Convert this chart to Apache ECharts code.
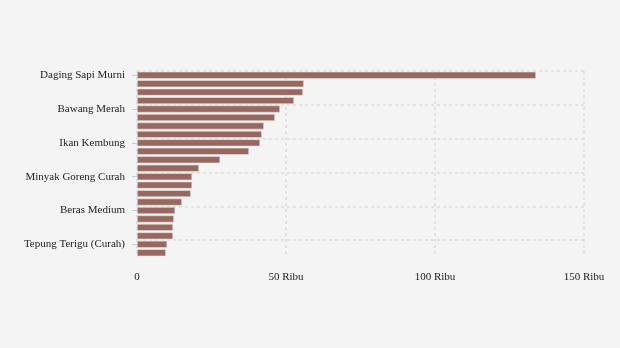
<!DOCTYPE html>
<html><head><meta charset="utf-8">
<script src="https://cdn.jsdelivr.net/npm/echarts@6/dist/echarts.min.js"></script>
<style>html,body{margin:0;padding:0;background:#f4f4f4}#c{width:620px;height:348px}</style>
</head><body><div id="c"></div>
<script>
var categories = ["Daging Sapi Murni","Cabai Rawit Merah","Daging Ayam Ras","Cabai Merah Keriting","Bawang Merah","Cabai Merah Besar","Ikan Bandeng","Bawang Putih Bonggol","Ikan Kembung","Ikan Tongkol","Telur Ayam Ras","Minyak Goreng Kemasan","Minyak Goreng Curah","Gula Konsumsi","Kedelai Biji Kering","Beras Premium","Beras Medium","Tepung Terigu (Kemasan)","Garam Halus","Jagung Tk Peternak","Tepung Terigu (Curah)","Jagung Pipilan"];
var values = [133.9,56.0,55.7,52.7,48.0,46.3,42.6,41.9,41.3,37.6,27.9,20.8,18.5,18.5,18.1,15.1,12.8,12.4,12.1,12.1,10.1,9.7];
var xTicks = {0:"0",50:"50 Ribu",100:"100 Ribu",150:"150 Ribu"};
var chart = echarts.init(document.getElementById('c'));
var font = "'Liberation Serif', 'Times New Roman', serif";
chart.setOption({
  backgroundColor:'#f4f4f4',
  animation:false,
  grid:{left:137,right:36,top:71,bottom:91},
  xAxis:{type:'value',min:0,max:150,interval:50,
    axisLine:{show:false},axisTick:{show:false},
    axisLabel:{fontFamily:font,fontSize:11,color:'#222',margin:15,formatter:function(v){return xTicks[v]!==undefined?xTicks[v]:v;}},
    splitLine:{show:true,lineStyle:{color:'#dcdcdc',width:1.5,type:[3,3]}}},
  yAxis:{type:'category',inverse:true,data:categories,
    axisLine:{show:false},
    axisTick:{show:true,interval:3,alignWithLabel:true,length:5,lineStyle:{color:'#cccccc'}},
    axisLabel:{interval:3,fontFamily:font,fontSize:11,color:'#222',margin:12},
    splitLine:{show:true,interval:3,showMaxLine:false,lineStyle:{color:'#dcdcdc',width:1.5,type:[3,3]}}},
  series:[{type:'bar',data:values,barWidth:7,
    itemStyle:{color:'#976860',borderColor:'#ebe3e3',borderWidth:0.6}}]
});
</script></body></html>
